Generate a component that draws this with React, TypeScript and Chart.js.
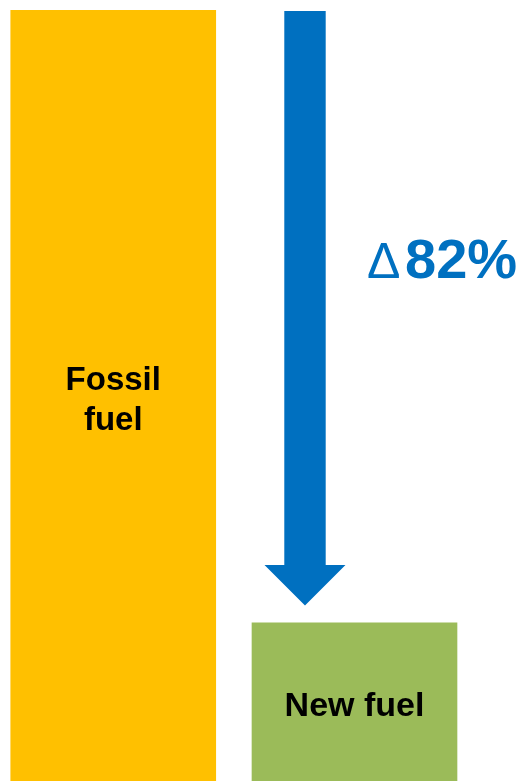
import React, { useEffect, useRef } from 'react';
import { Chart, registerables } from 'chart.js';

Chart.register(...registerables);

const categories = ['Fossil fuel', 'New fuel'];
const barLabelLines = [['Fossil', 'fuel'], ['New fuel']];
const values = [100, 20.5];
const barColors = ['#FFC000', '#9BBB59'];
const deltaSymbol = 'Δ';
const changeLabel = '82%';
const arrowColor = '#0070C0';

const FONT = '"Liberation Sans", Arial, sans-serif';

const overlayPlugin = {
  id: 'overlay',
  afterDatasetsDraw(chart: any) {
    const ctx = chart.ctx as CanvasRenderingContext2D;
    const meta = chart.getDatasetMeta(0);
    const yScale = chart.scales.y;
    ctx.save();
    // bar labels
    ctx.fillStyle = '#000';
    ctx.textAlign = 'center';
    ctx.textBaseline = 'alphabetic';
    meta.data.forEach((bar: any, i: number) => {
      const { x, y, base } = bar.getProps(['x', 'y', 'base'], true);
      const mid = (y + base) / 2;
      const lines = barLabelLines[i];
      if (lines.length === 2) {
        ctx.font = `bold 33px ${FONT}`;
        ctx.fillText(lines[0], x, mid - 6);
        ctx.fillText(lines[1], x, mid + 34);
      } else {
        ctx.font = `bold 34px ${FONT}`;
        ctx.fillText(lines[0], x, mid + 14);
      }
    });

    // arrow from top of first bar to above second bar
    const b1 = meta.data[1].getProps(['x', 'y', 'width'], true);
    const cx = b1.x - b1.width / 2 + 53;
    const top = yScale.getPixelForValue(values[0]) + 1;
    const tip = yScale.getPixelForValue(values[1]) - 17.5;
    const shaftHalf = 20.7;
    const headHalf = 40.5;
    const headTop = tip - 40.5;
    ctx.fillStyle = arrowColor;
    ctx.beginPath();
    ctx.moveTo(cx - shaftHalf, top);
    ctx.lineTo(cx + shaftHalf, top);
    ctx.lineTo(cx + shaftHalf, headTop);
    ctx.lineTo(cx + headHalf, headTop);
    ctx.lineTo(cx, tip);
    ctx.lineTo(cx - headHalf, headTop);
    ctx.lineTo(cx - shaftHalf, headTop);
    ctx.closePath();
    ctx.fill();

    // change label
    const baseY = 278;
    ctx.textAlign = 'left';
    ctx.font = `50px ${FONT}`;
    ctx.fillText(deltaSymbol, 367, baseY);
    ctx.font = `bold 56px ${FONT}`;
    ctx.fillText(changeLabel, 405, baseY);
    ctx.restore();
  },
};

export default function App() {
  const ref = useRef<HTMLCanvasElement | null>(null);
  useEffect(() => {
    if (!ref.current) return;
    const chart = new Chart(ref.current, {
      type: 'bar',
      data: {
        labels: categories,
        datasets: [
          {
            data: values.map((v, i) => ({ x: i, y: v })),
            backgroundColor: barColors,
            borderWidth: 0,
            barThickness: 205,
          },
        ],
      },
      options: {
        animation: false,
        responsive: false,
        devicePixelRatio: 1,
        layout: { padding: { top: 10, left: 0, right: 0, bottom: 0 } },
        scales: {
          x: { type: 'linear', display: false, offset: false, min: -0.4694, max: 1.7026 },
          y: { display: false, min: 0, max: 100 },
        },
        plugins: { legend: { display: false }, tooltip: { enabled: false } },
      },
      plugins: [overlayPlugin],
    } as any);
    return () => chart.destroy();
  }, []);
  return (
    <div style={{ position: 'absolute', left: 0, top: 0, width: 524, height: 781 }}>
      <canvas ref={ref} width={524} height={781} style={{ display: 'block' }} />
    </div>
  );
}
